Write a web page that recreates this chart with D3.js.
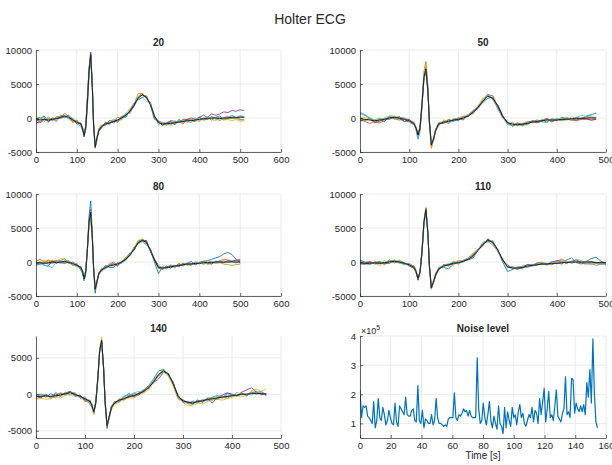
<!DOCTYPE html>
<html><head><meta charset="utf-8">
<script src="https://cdn.jsdelivr.net/npm/d3@7"></script>
<style>
body{margin:0;background:#fff}
svg text{font-family:"Liberation Sans",Arial,Helvetica,sans-serif;fill:#262626}
</style></head>
<body><svg id="c" width="612" height="465"></svg>
<script>
// ---------------- DATA ----------------
const chartTitle = "Holter ECG";
const panelTitles = ["20", "50", "80", "110", "140"];
const traceColors = ["#0072BD", "#D95319", "#EDB120", "#7E2F8E", "#77AC30", "#4DBEEE"];
const qrsSamples = [114, 118, 122, 126, 130, 134, 138, 141, 145, 149, 154];
const beatEnd = [510, 480, 500, 500, 470];
const xLimits = [600, 500, 600, 500, 500];
const yLimits = [[-5000, 10000], [-5000, 10000], [-5000, 10000], [-5000, 10000], [-6000, 8000]];
const yTickValues = [[-5000, 0, 5000, 10000], [-5000, 0, 5000, 10000], [-5000, 0, 5000, 10000], [-5000, 0, 5000, 10000], [-5000, 0, 5000]];

// mean beat of each group (black line)
const mean20 = [-200,-300,-200,-300,-200,-100,100,300,100,-300,-600,-900,
 -1600,-2600,-1200,2500,7000,9300,4500,-1000,-4300,-3000,-1800,
 -1300,-900,-700,-500,-300,0,400,1000,1900,2900,3400,3100,2000,300,-700,-900,-800,-800,-700,-600,-500,-400,-400,-300,-200,-100,-100,0,0,-100,0,0,100,100,100,100];
const mean50 = [-100,-200,-300,-400,-300,-200,0,100,0,-200,-400,-900,
 -1500,-2500,-1500,2000,6000,7200,4000,-500,-4000,-3200,-1800,
 -900,-600,-500,-300,-200,0,300,800,1600,2500,3200,2900,1800,200,-700,-900,-1000,-900,-800,-600,-500,-400,-300,-300,-300,-200,-200,-100,-100,-100,0,0,0];
const mean80 = [-200,-100,-200,-100,0,-100,0,100,-100,-200,-500,-800,
 -1400,-2500,-1300,2000,6000,7300,3500,-800,-4000,-3000,-1700,
 -1200,-800,-600,-400,-300,0,400,1000,1900,2800,3200,2900,1800,300,-800,-900,-800,-700,-600,-500,-400,-300,-300,-200,-200,-100,-100,-100,0,0,0,0,0,0,0];
const mean110 = [-100,-200,-200,-100,-200,-100,0,100,0,-200,-400,-800,
 -1400,-2400,-1500,1500,5800,7700,4200,-500,-3800,-3000,-1800,
 -1000,-600,-400,-200,-100,100,400,900,1700,2600,3200,2900,1800,300,-700,-900,-900,-800,-600,-500,-400,-300,-300,-200,-200,-100,-100,0,0,0,0,0,-100,-100,-100];
const mean140 = [-300,-300,-200,-300,-200,-100,100,200,0,-300,-600,-1000,
 -1500,-2400,-1200,2000,6000,7400,3500,-1000,-4300,-3200,-1800,
 -1200,-800,-600,-300,-200,100,400,900,1700,2700,3200,2800,1500,-300,-900,-1100,-1200,-1000,-900,-700,-600,-500,-400,-300,-200,-100,0,0,100,100,100,0];

// deviation of each individual beat from the mean, in hundreds
const devUnit = 100;
const dev20 = [
 [-3,2,5,-2,1,-4,3,0,-2,2,-3,1,-2,2,-5,-8,-6,-3,4,6,2,-3,1,2,-1,3,-2,0,2,-3,1,3,-2,-4,2,-1,-5,3,1,-2,2,-3,4,-1,2,0,-2,3,-1,2,-3,1,4,-2,0,3,-1,2,1],
 [2,-4,-1,3,-2,2,-1,4,1,-3,2,-2,3,-1,4,6,3,2,-4,-3,-1,2,-2,-1,3,-2,1,4,-1,2,-3,0,2,3,-2,1,-3,2,-1,0,3,-2,1,-4,2,1,-1,3,-2,-1,2,0,-3,1,2,-2,-1,-3,-4],
 [4,3,-2,5,-1,-3,2,1,-2,-4,1,-2,1,2,-3,3,2,-5,-2,2,-2,1,3,3,-2,1,3,-1,-3,2,4,1,3,-1,2,0,-2,1,3,-1,-3,2,1,-2,0,2,-1,-3,1,2,-2,-4,1,-3,-2,-5,-3,-6,-5],
 [-5,-3,1,-2,2,0,-1,-2,3,1,-2,2,-1,-2,2,5,4,4,1,-2,2,-2,-1,-2,2,-1,0,-3,2,1,-1,-2,0,1,-2,3,-1,2,-2,1,4,2,-1,3,2,4,1,3,5,2,6,4,7,9,8,10,9,11,10],
 [1,4,-3,2,-2,3,1,-1,2,-1,3,-1,2,1,-2,-4,-3,-2,3,-1,1,-1,2,1,-2,3,2,-1,3,-2,2,1,7,2,-1,1,-2,0,2,-3,1,-1,2,0,-2,1,3,-2,1,-1,2,-2,1,-3,0,-2,-1,-4,-3],
 [-2,1,3,-4,0,-2,2,-3,1,3,-1,-4,-2,-1,1,2,1,-2,2,3,-1,-3,1,-2,1,-3,2,1,-2,3,-3,2,-2,-4,-6,2,1,-3,2,1,-2,3,-1,2,-1,-3,2,1,-2,3,-1,0,2,-2,1,3,-1,2,1]];
const dev50 = [
 [8,6,3,-2,1,-3,2,-1,2,-3,-1,2,-2,-6,-4,-3,1,3,2,-2,1,-2,2,-1,2,-3,1,-2,2,-1,3,1,-2,-3,2,-4,-1,2,-3,1,-2,0,2,-1,1,-3,2,-1,3,1,-2,2,0,3,5,7],
 [-2,-3,-5,-1,-4,-2,1,-2,-3,1,2,-1,1,2,3,4,8,11,6,2,-4,-1,1,2,-1,3,-2,1,2,-1,2,-1,3,2,4,-1,-2,1,-3,2,-1,-2,1,2,-1,3,-2,1,-2,0,-2,-3,-1,-2,-3,-2],
 [2,3,1,-2,2,-1,3,2,-2,1,-1,3,2,1,-2,5,6,8,4,-3,-5,2,-1,-2,3,1,-1,2,3,2,-2,3,4,1,-2,2,1,-1,2,-2,1,3,-1,-2,2,1,-1,2,1,-2,3,0,1,-1,2,1],
 [-3,-1,2,-3,-2,1,-2,1,-1,-3,2,1,-1,-2,1,-2,-3,-4,-1,1,3,-1,2,1,-2,2,-1,1,-3,2,1,-2,-1,3,-2,1,2,-1,-2,3,-1,2,1,-2,-1,2,-3,1,0,2,-1,-2,1,-1,-3,-2],
 [1,-2,2,1,3,-1,2,-3,1,2,-2,-1,1,-1,2,1,-2,-2,1,-2,1,2,-1,-1,1,-2,2,1,-1,2,3,-1,1,2,-1,-3,1,-2,2,-1,1,-2,2,-1,1,2,-2,1,-1,2,-2,1,-1,2,1,0],
 [10,7,3,1,-1,2,3,1,-1,2,-2,-1,-3,-5,-2,-2,0,-2,1,3,2,-3,2,-2,1,-1,-2,3,-1,2,-1,2,-2,2,-2,-4,-1,-3,-2,2,-3,1,-1,2,-2,-4,1,2,-2,3,-1,2,5,2,4,8]];
const dev80 = [
 [-2,1,-3,-5,2,-1,1,-2,2,-3,1,-4,-3,-2,-4,1,8,17,6,-3,-6,1,2,-1,3,-2,-4,2,-1,1,3,-2,1,-2,3,-1,-3,-9,2,-1,1,-2,2,-1,1,4,-2,1,2,3,5,6,8,12,14,11,4,-2],
 [3,5,2,4,1,3,2,4,-1,2,1,-2,2,-1,1,-2,-4,-3,2,3,-1,2,-1,2,-1,3,4,-2,1,2,-1,3,-2,2,1,-1,2,-1,-2,1,2,-1,3,-2,1,-1,2,1,-2,3,1,-1,2,4,3,1,2,4],
 [-1,2,4,1,3,2,5,3,1,-2,-1,1,1,2,-1,-3,-6,-13,-4,2,1,-1,2,-2,1,3,-1,2,1,3,-2,2,4,1,-1,-2,2,1,-1,2,-2,1,-1,3,-2,1,-1,2,-3,1,-2,1,-1,2,-1,1,-2,1],
 [-3,-2,1,-2,-1,2,-1,-3,1,-2,2,-1,-2,-1,2,1,2,4,1,-1,2,-2,1,1,-2,1,2,-3,1,-1,2,-2,1,-1,2,-2,1,3,-1,2,-2,1,-2,2,-1,1,-2,1,2,-1,-2,1,0,-1,2,1,3,2],
 [2,-1,1,3,-2,1,-2,1,3,-1,-2,2,1,-3,2,-1,-2,-5,-2,1,-1,2,-1,-3,1,2,-1,1,-2,3,2,-1,3,1,-3,2,-1,-2,1,-2,2,1,-1,2,-1,-2,1,-1,2,-3,1,-2,-1,-3,-4,-5,-4,-3],
 [1,-3,-2,-5,-8,1,2,-1,1,-2,3,-2,-1,-2,1,3,1,2,1,-2,3,-1,1,2,-1,1,-2,2,-1,-2,1,2,-1,-2,-4,1,-2,2,1,-1,3,-2,1,-1,2,1,-1,2,-1,3,2,-1,2,-1,1,2,-1,1]];
const dev110 = [
 [4,2,1,-1,2,-1,3,-2,1,-2,2,1,-1,-2,1,-2,1,2,-1,2,-1,1,-2,1,-2,-6,-1,1,-1,2,1,2,1,-2,2,-1,-3,-7,-2,1,-2,2,1,-1,2,-1,3,1,-2,4,6,-1,-3,1,5,8,2,-1],
 [-2,1,3,-1,2,-3,1,-2,2,1,-1,-2,1,2,-1,3,4,3,1,-2,-1,1,2,-1,2,1,-2,3,1,2,3,1,-1,2,-1,1,-2,3,-1,2,1,-2,1,-1,2,1,-2,3,5,2,-1,1,-2,-3,-2,-4,-2,-3],
 [1,-2,2,-1,-3,1,2,-1,3,-2,1,2,2,1,-2,2,1,1,-1,-3,-2,2,1,2,1,-1,2,3,1,2,4,2,3,-1,1,-2,2,-1,1,-2,2,1,-1,2,3,-1,2,1,3,2,-1,1,-2,2,-3,-1,-2,-3],
 [-2,-1,2,-2,1,-1,-2,2,-1,1,-2,-1,-2,-3,1,-1,-2,-2,1,-1,2,-1,-2,-2,1,-1,2,-2,1,-1,-3,1,-2,2,-1,-2,1,-1,2,-2,1,2,-1,3,1,-1,2,4,2,-1,1,3,-1,-2,1,-1,1,-2],
 [2,1,-2,1,3,-1,1,2,-2,1,-1,2,1,-1,2,1,-1,-1,2,1,-1,-2,1,-1,2,-2,1,-1,2,1,-2,2,1,-2,-4,-2,1,-1,2,-1,1,-2,1,2,-1,1,-2,1,-1,2,-2,1,-1,-2,-1,1,-2,1],
 [3,-1,-2,1,-1,3,-2,2,-1,-2,2,-1,-2,2,-1,-2,-3,-2,1,2,-2,1,-1,2,-1,1,3,-2,1,2,-2,1,3,-1,2,-3,1,-2,1,-1,2,-2,1,-1,2,-2,3,-1,2,1,-1,4,2,-2,-4,-1,-3,-2]];
const dev140 = [
 [2,3,-2,4,-1,2,-2,1,-3,2,-4,1,-2,-1,2,-2,1,-2,1,2,-1,1,-2,2,-1,3,4,-2,1,2,3,4,5,2,-1,1,-2,1,-1,2,-2,1,-1,2,3,-1,4,2,-1,1,-2,2,1,3,-1],
 [-3,-1,2,-2,1,3,-1,2,-2,1,-1,-3,-2,-3,1,2,-1,-2,1,-1,2,-1,1,-1,2,-2,1,3,-1,2,-1,1,-2,1,-1,-2,-3,1,-2,-1,2,-1,1,-2,-1,2,-3,1,-1,2,-2,1,3,-2,1],
 [-4,-2,-5,-3,-1,-4,-2,-3,-1,-2,-3,-2,-3,-4,1,3,4,4,2,-2,-1,-2,-3,-2,-3,-1,-2,-3,-1,-2,-3,-1,-2,-1,-3,-4,-3,-2,-5,-3,-2,-4,-3,-1,-2,-4,-3,-2,-1,-3,-2,4,6,3,8],
 [1,-2,2,-1,3,-2,1,2,-1,1,-2,2,1,-1,2,1,-2,-3,1,-2,-4,1,2,1,-2,2,-1,1,-2,1,2,-1,-6,-2,1,-1,2,-2,1,-1,2,-2,1,-6,1,3,5,2,-1,3,6,8,2,-1,1],
 [-1,2,-2,1,-3,2,-1,1,2,-2,1,-1,2,-1,-2,1,2,1,-1,2,-1,-2,1,-2,1,-1,2,-2,1,-1,2,1,-1,3,-2,1,-1,2,-1,-2,1,-1,2,1,-2,1,-1,2,-2,1,-1,2,-1,1,-2],
 [-1,3,1,-2,5,-1,2,-3,1,-2,3,-4,-3,-1,2,-1,-2,-1,2,-1,1,-2,2,1,-1,3,2,4,3,-1,2,3,1,-2,-1,2,-1,1,-2,3,-1,2,-2,1,3,-1,2,-2,4,-1,1,-2,2,1,-1]];

// noise level per beat window, in units of 1e5
const noiseStep = 0.99; // seconds between estimates
const noiseLevel = [2.15,1.2,1.6,1.55,1.6,1.25,1.2,1.1,1.0,1.75,0.85,1.1,1.85,1.2,1.1,1.55,1.3,0.95,1.1,1.45,1.2,1.0,0.95,1.7,1.05,0.9,1.6,1.5,1.4,1.3,1.9,1.3,1.25,1.25,1.45,1.5,1.1,1.05,2.3,1.1,1.0,1.45,0.85,1.15,1.1,1.0,1.0,1.3,0.95,1.1,1.85,1.2,1.0,1.0,0.95,0.9,0.95,0.9,1.15,1.2,1.2,1.2,2.05,1.2,1.1,1.3,1.25,1.35,1.5,1.4,1.45,1.25,1.45,1.25,1.2,1.2,1.2,3.25,1.5,1.0,1.1,1.7,1.2,0.95,1.3,1.75,1.1,0.85,1.25,1.0,0.8,1.6,1.0,0.9,0.65,1.55,0.85,1.4,1.1,0.9,1.55,1.2,1.3,0.95,1.4,1.65,1.2,1.35,1.0,0.9,1.1,1.3,1.2,1.55,1.05,1.45,1.35,1.0,1.85,1.3,1.75,2.2,1.05,1.5,2.1,1.2,1.3,1.1,1.6,2.15,1.25,1.15,1.05,1.35,1.5,2.6,1.3,1.4,1.2,2.55,2.5,1.35,1.7,1.5,1.4,1.6,1.4,1.65,1.3,2.4,1.9,2.85,1.7,3.9,2.0,1.05,0.85];
const noiseXTicks = [0, 20, 40, 60, 80, 100, 120, 140, 160];
const noiseYTicks = [1, 2, 3, 4];
const noiseLimits = [0.5, 4];
const noiseXLabel = "Time [s]";
const noiseTitle = "Noise level";

// ---------------- DRAWING ----------------
const means = [mean20, mean50, mean80, mean110, mean140];
const devs = [dev20, dev50, dev80, dev110, dev140];
const layout = [
  {x0: 36, x1: 281, y0: 50, y1: 152},
  {x0: 360, x1: 606, y0: 50, y1: 152},
  {x0: 36, x1: 281, y0: 194, y1: 296},
  {x0: 360, x1: 606, y0: 194, y1: 296},
  {x0: 36, x1: 281, y0: 336, y1: 438},
  {x0: 360, x1: 606, y0: 336, y1: 438}
];
const svg = d3.select("#c");
const fmt = d => String(d);

svg.append("text").attr("x", 310).attr("y", 24).attr("text-anchor", "middle")
  .attr("font-size", 14).text(chartTitle);

function drawFrame(i, x, y, xt, yt, title) {
  const L = layout[i];
  const g = svg.append("g");
  g.selectAll(".gx").data(xt).join("line")
    .attr("x1", d => x(d)).attr("x2", d => x(d)).attr("y1", L.y0).attr("y2", L.y1)
    .attr("stroke", "#e4e4e4").attr("stroke-width", 0.8);
  g.selectAll(".gy").data(yt).join("line")
    .attr("y1", d => y(d)).attr("y2", d => y(d)).attr("x1", L.x0).attr("x2", L.x1)
    .attr("stroke", "#e4e4e4").attr("stroke-width", 0.8);
  svg.append("clipPath").attr("id", "clip" + i).append("rect")
    .attr("x", L.x0).attr("y", L.y0).attr("width", L.x1 - L.x0).attr("height", L.y1 - L.y0);
  svg.append("text").attr("x", (L.x0 + L.x1) / 2).attr("y", L.y0 - 4)
    .attr("text-anchor", "middle").attr("font-size", 10).attr("font-weight", "bold").text(title);
  return g;
}
function drawAxes(i, x, y, xt, yt) {
  const L = layout[i];
  const ax = svg.append("g").attr("transform", `translate(0,${L.y1})`)
    .call(d3.axisBottom(x).tickValues(xt).tickFormat(fmt).tickSize(-3).tickSizeOuter(0).tickPadding(4));
  const ay = svg.append("g").attr("transform", `translate(${L.x0},0)`)
    .call(d3.axisLeft(y).tickValues(yt).tickFormat(fmt).tickSize(-3).tickSizeOuter(0).tickPadding(4));
  [ax, ay].forEach(a => {
    a.select(".domain").attr("stroke", "#262626").attr("stroke-width", 0.7);
    a.selectAll(".tick line").attr("stroke", "#262626").attr("stroke-width", 0.7);
    a.selectAll(".tick text").attr("font-size", 9.5).attr("fill", "#262626")
      .style("font-family", '"Liberation Sans", Arial, Helvetica, sans-serif');
  });
}

for (let p = 0; p < 5; p++) {
  const L = layout[p];
  const x = d3.scaleLinear().domain([0, xLimits[p]]).range([L.x0, L.x1]);
  const y = d3.scaleLinear().domain(yLimits[p]).range([L.y1, L.y0]);
  const xt = d3.range(0, xLimits[p] + 1, 100);
  drawFrame(p, x, y, xt, yTickValues[p], panelTitles[p]);
  const grid = d3.range(0, 111, 10).concat(qrsSamples, d3.range(160, beatEnd[p] + 1, 10));
  const mean = means[p];
  const line = d3.line().x(d => x(d[0])).y(d => y(d[1]));
  const gd = svg.append("g").attr("clip-path", `url(#clip${p})`);
  devs[p].forEach((dv, k) => {
    const n = Math.min(grid.length, mean.length, dv.length);
    const pts = d3.range(n).map(j => [grid[j], mean[j] + dv[j] * devUnit]);
    gd.append("path").attr("d", line(pts)).attr("fill", "none")
      .attr("stroke", traceColors[k]).attr("stroke-width", 0.85).attr("stroke-linejoin", "round");
  });
  const nm = Math.min(grid.length, mean.length);
  gd.append("path").attr("d", line(d3.range(nm).map(j => [grid[j], mean[j]])))
    .attr("fill", "none").attr("stroke", "#1a1a1a").attr("stroke-width", 0.95).attr("stroke-linejoin", "round");
  drawAxes(p, x, y, xt, yTickValues[p]);
}

// noise panel
{
  const p = 5, L = layout[p];
  const x = d3.scaleLinear().domain([0, 160]).range([L.x0, L.x1]);
  const y = d3.scaleLinear().domain(noiseLimits).range([L.y1, L.y0]);
  drawFrame(p, x, y, noiseXTicks, noiseYTicks, noiseTitle);
  const line = d3.line().x((d, j) => x(j * noiseStep)).y(d => y(d));
  svg.append("g").attr("clip-path", `url(#clip${p})`).append("path")
    .attr("d", line(noiseLevel)).attr("fill", "none").attr("stroke", "#0072BD")
    .attr("stroke-width", 1.2).attr("stroke-linejoin", "round");
  drawAxes(p, x, y, noiseXTicks, noiseYTicks);
  const ex = svg.append("text").attr("x", L.x0 + 1).attr("y", L.y0 - 2).attr("font-size", 9);
  ex.append("tspan").text("×10");
  ex.append("tspan").attr("font-size", 7).attr("dy", -4).text("5");
  svg.append("text").attr("x", (L.x0 + L.x1) / 2).attr("y", 459).attr("text-anchor", "middle")
    .attr("font-size", 10).text(noiseXLabel);
}
</script></body></html>
